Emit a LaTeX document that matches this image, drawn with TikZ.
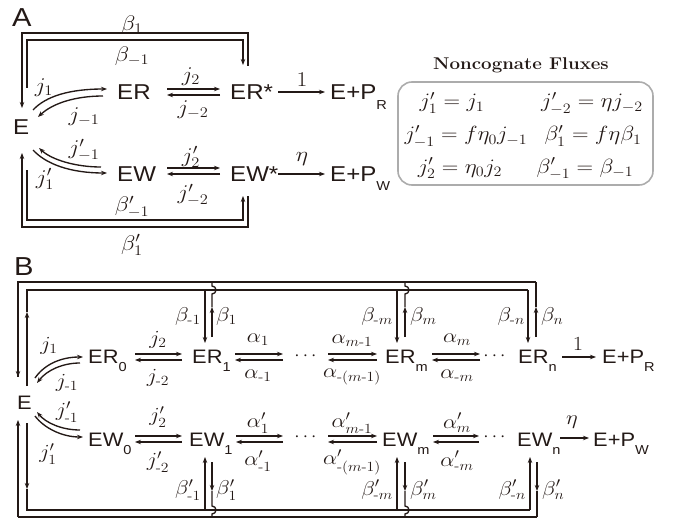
\RequirePackage{fix-cm}
\documentclass[tikz,border=0pt]{standalone}
\usepackage{amsmath}
\usepackage{fontspec}
\setsansfont[FakeStretch=1.12]{Liberation Sans}
\usetikzlibrary{arrows.meta}
\definecolor{ink}{RGB}{35,25,22}
\definecolor{boxgray}{RGB}{172,172,172}
\newcommand\ml[1]{\scalebox{1.12}[1]{$#1$}}
\newcommand\ssub[1]{\raisebox{-0.45em}{\fontsize{13}{13}\selectfont #1}}
\newcommand\hy{\text{-}}
\begin{document}
\begin{tikzpicture}[x=1pt,y=-1pt,
  ln/.style={line width=1.35pt, draw=ink},
  arr/.style={ln, -{Stealth[length=6pt,width=4.5pt]}},
  big/.style={font=\sffamily\fontsize{26}{26}\selectfont, text=ink, inner sep=0pt, anchor=base west},
  sfA/.style={font=\sffamily\fontsize{21.5}{21.5}\selectfont, text=ink, inner sep=0pt, anchor=base west},
  sfB/.style={font=\sffamily\fontsize{19.5}{19.5}\selectfont, text=ink, inner sep=0pt, anchor=base west},
  labA/.style={font=\fontsize{21}{21}\selectfont, text=ink, inner sep=0pt},
  labB/.style={font=\fontsize{20}{20}\selectfont, text=ink, inner sep=0pt},
  eqn/.style={font=\fontsize{20.5}{20.5}\selectfont, text=ink, inner sep=0pt, anchor=base},
  dots/.style={font=\fontsize{19}{19}\selectfont, text=ink, inner sep=0pt}]
\useasboundingbox (0,0) rectangle (681,519);

% ================= Panel A =================
\node[big] (A) at (12,27) {A};
\node[sfA] (E) at (13,135) {E};
\node[sfA] (ER) at (117,100) {ER};
\node[sfA] (ERs) at (230,100) {ER*};
\node[sfA] (PR) at (330,100) {E+P\ssub{R}};
\node[sfA] (EW) at (117,181) {EW};
\node[sfA] (EWs) at (230,181) {EW*};
\node[sfA] (PW) at (330,181) {E+P\ssub{W}};

% coordinates
\coordinate (aERf1) at (167,89);  \coordinate (aERf2) at (220,89);
\coordinate (aERb1) at (220,95);  \coordinate (aERb2) at (167,95);
\coordinate (aEWf1) at (167,168); \coordinate (aEWf2) at (220,168);
\coordinate (aEWb1) at (220,174); \coordinate (aEWb2) at (167,174);
\coordinate (aO1a) at (278,92);   \coordinate (aO1b) at (325,92);
\coordinate (aO2a) at (278,174);  \coordinate (aO2b) at (325,174);
\coordinate (aC1s) at (33,110);   \coordinate (aC1e) at (107,89);
\coordinate (aC2s) at (103,96);   \coordinate (aC2e) at (38,117);
\coordinate (aC3s) at (101,167);  \coordinate (aC3e) at (39,148);
\coordinate (aC4s) at (33,150);   \coordinate (aC4e) at (107,173);
\coordinate (aTi0) at (27,88);  \coordinate (aTi1) at (27,40);  \coordinate (aTi2) at (243,40);  \coordinate (aTi3) at (243,65);
\coordinate (aTo0) at (248,66); \coordinate (aTo1) at (248,33); \coordinate (aTo2) at (22,33);   \coordinate (aTo3) at (22,108);
\coordinate (aBi0) at (27,170); \coordinate (aBi1) at (27,220); \coordinate (aBi2) at (243,220); \coordinate (aBi3) at (243,196);
\coordinate (aBo0) at (248,196);\coordinate (aBo1) at (248,227);\coordinate (aBo2) at (22,227);  \coordinate (aBo3) at (22,153);

\draw[arr] (aERf1) -- (aERf2);
\draw[arr] (aERb1) -- (aERb2);
\draw[arr] (aEWf1) -- (aEWf2);
\draw[arr] (aEWb1) -- (aEWb2);
\draw[arr] (aO1a) -- (aO1b);
\draw[arr] (aO2a) -- (aO2b);
\draw[arr] (aC1s) .. controls (46,96) and (70,89) .. (aC1e);
\draw[arr] (aC2s) .. controls (76,96) and (53,103) .. (aC2e);
\draw[arr] (aC3s) .. controls (76,167) and (52,160) .. (aC3e);
\draw[arr] (aC4s) .. controls (46,164) and (70,173) .. (aC4e);
\draw[arr] (aTi0) -- (aTi1) -- (aTi2) -- (aTi3);
\draw[arr] (aTo0) -- (aTo1) -- (aTo2) -- (aTo3);
\draw[arr] (aBi0) -- (aBi1) -- (aBi2) -- (aBi3);
\draw[arr] (aBo0) -- (aBo1) -- (aBo2) -- (aBo3);

\node[labA] (lb1) at (132,25) {\ml{\beta_1}};
\node[labA] (lbm1) at (132,56) {\ml{\beta_{-1}}};
\node[labA] (lj2) at (191,77) {\ml{j_2}};
\node[labA] (ljm2) at (193,110) {\ml{j_{-2}}};
\node[labA] (l1) at (302,80) {\ml{1}};
\node[labA] (lj1) at (44,88) {\ml{j_1}};
\node[labA] (ljm1) at (84,117) {\ml{j_{-1}}};
\node[labA] (ljpm1) at (84,150) {\ml{j'_{-1}}};
\node[labA] (ljp1) at (45,179) {\ml{j'_1}};
\node[labA] (ljp2) at (191,157) {\ml{j'_2}};
\node[labA] (ljpm2) at (193,195) {\ml{j'_{-2}}};
\node[labA] (leta) at (302,159) {\ml{\eta}};
\node[labA] (lbpm1) at (132,207) {\ml{\beta'_{-1}}};
\node[labA] (lbp1) at (132,245) {\ml{\beta'_1}};

% Noncognate box
\node[font=\bfseries\fontsize{17}{17}\selectfont, text=ink, inner sep=0pt, anchor=base] (title) at (521,70) {\scalebox{1.1}[1]{Noncognate Fluxes}};
\node[draw=boxgray, line width=1.6pt, rounded corners=14pt, minimum width=255pt, minimum height=103pt, inner sep=0pt] (box) at (525.5,133.5) {};
\node[eqn] (q1) at (452,108) {\ml{j'_1 = j_1}};
\node[eqn] (q2) at (466,141) {\ml{j'_{-1} = f\eta_0 j_{-1}}};
\node[eqn] (q3) at (460,173) {\ml{j'_2 = \eta_0 j_2}};
\node[eqn] (q4) at (592,108) {\ml{j'_{-2} = \eta j_{-2}}};
\node[eqn] (q5) at (593,141) {\ml{\beta'_1 = f\eta\beta_1}};
\node[eqn] (q6) at (585,173) {\ml{\beta'_{-1} = \beta_{-1}}};

% ================= Panel B =================
\node[big] (B) at (14,275) {B};
\node[sfB] (EB) at (17,409) {E};
\node[sfB] (ER0) at (88,363) {ER\ssub{0}};
\node[sfB] (ER1) at (192,363) {ER\ssub{1}};
\node[sfB] (ERm) at (385,363) {ER\ssub{m}};
\node[sfB] (ERn) at (518,363) {ER\ssub{n}};
\node[sfB] (PRB) at (602,363) {E+P\ssub{R}};
\node[sfB] (EW0) at (88,446) {EW\ssub{0}};
\node[sfB] (EW1) at (189,446) {EW\ssub{1}};
\node[sfB] (EWm) at (382,446) {EW\ssub{m}};
\node[sfB] (EWn) at (517,446) {EW\ssub{n}};
\node[sfB] (PWB) at (593,446) {E+P\ssub{W}};
\node[dots] (d1) at (307,356) {$\cdots$};
\node[dots] (d2) at (496,356) {$\cdots$};
\node[dots] (d3) at (307,437) {$\cdots$};
\node[dots] (d4) at (496,437) {$\cdots$};

% horizontal pairs, ER row
\coordinate (r1a) at (135,354); \coordinate (r1b) at (182,354); \coordinate (r1c) at (182,360); \coordinate (r1d) at (135,360);
\coordinate (r2a) at (235,354); \coordinate (r2b) at (283,354); \coordinate (r2c) at (283,360); \coordinate (r2d) at (235,360);
\coordinate (r3a) at (328,354); \coordinate (r3b) at (377,354); \coordinate (r3c) at (377,360); \coordinate (r3d) at (328,360);
\coordinate (r4a) at (432,354); \coordinate (r4b) at (480,354); \coordinate (r4c) at (480,360); \coordinate (r4d) at (432,360);
\coordinate (r5a) at (562,357); \coordinate (r5b) at (596,357);
\draw[arr] (r1a) -- (r1b); \draw[arr] (r1c) -- (r1d);
\draw[arr] (r2a) -- (r2b); \draw[arr] (r2c) -- (r2d);
\draw[arr] (r3a) -- (r3b); \draw[arr] (r3c) -- (r3d);
\draw[arr] (r4a) -- (r4b); \draw[arr] (r4c) -- (r4d);
\draw[arr] (r5a) -- (r5b);
% EW row
\coordinate (w1a) at (135,436); \coordinate (w1b) at (182,436); \coordinate (w1c) at (182,442); \coordinate (w1d) at (135,442);
\coordinate (w2a) at (236,436); \coordinate (w2b) at (283,436); \coordinate (w2c) at (283,442); \coordinate (w2d) at (236,442);
\coordinate (w3a) at (328,436); \coordinate (w3b) at (377,436); \coordinate (w3c) at (377,442); \coordinate (w3d) at (328,442);
\coordinate (w4a) at (433,436); \coordinate (w4b) at (479,436); \coordinate (w4c) at (479,442); \coordinate (w4d) at (433,442);
\coordinate (w5a) at (560,438); \coordinate (w5b) at (589,438);
\draw[arr] (w1a) -- (w1b); \draw[arr] (w1c) -- (w1d);
\draw[arr] (w2a) -- (w2b); \draw[arr] (w2c) -- (w2d);
\draw[arr] (w3a) -- (w3b); \draw[arr] (w3c) -- (w3d);
\draw[arr] (w4a) -- (w4b); \draw[arr] (w4c) -- (w4d);
\draw[arr] (w5a) -- (w5b);

% curved arrows B
\coordinate (bC1s) at (35,378); \coordinate (bC1e) at (83,357);
\coordinate (bC2s) at (80,363); \coordinate (bC2e) at (37,383);
\coordinate (bC3s) at (80,430); \coordinate (bC3e) at (37,412);
\coordinate (bC4s) at (35,416); \coordinate (bC4e) at (83,437);
\draw[arr] (bC1s) .. controls (44,365) and (60,357) .. (bC1e);
\draw[arr] (bC2s) .. controls (63,363) and (47,370) .. (bC2e);
\draw[arr] (bC3s) .. controls (62,430) and (46,423) .. (bC3e);
\draw[arr] (bC4s) .. controls (44,428) and (62,437) .. (bC4e);

% top loops B
\coordinate (tO0) at (18,282); \coordinate (tO1) at (536,282); \coordinate (tOE) at (18,377);
\coordinate (tI0) at (27,290); \coordinate (tI1) at (528,290); \coordinate (tIE) at (27,386);
\coordinate (tIa) at (27,312);
\draw[ln] (tO1) -- (tO0) -- (tOE);
\draw[arr] (tO0) -- (tOE);
\draw[ln] (tIa) -- (tI0) -- (tI1);
\draw[arr] (tIE) -- (tIa);
% down arrows into ER_k
\coordinate (dn1a) at (205,290); \coordinate (dn1b) at (205,343);
\coordinate (dn2a) at (397,290); \coordinate (dn2b) at (397,343);
\coordinate (dn3a) at (528,290); \coordinate (dn3b) at (528,343);
\draw[arr] (dn1a) -- (dn1b);
\draw[arr] (dn2a) -- (dn2b);
\draw[arr] (dn3a) -- (dn3b);
% up arrows from ER_k, with hops
\coordinate (up1a) at (212,337); \coordinate (up1b) at (212,307); \coordinate (up1c) at (212,282);
\coordinate (up2a) at (405,337); \coordinate (up2b) at (405,307); \coordinate (up2c) at (405,282);
\coordinate (up3a) at (536,337); \coordinate (up3b) at (536,307); \coordinate (up3c) at (536,282);
\draw[arr] (up1a) -- (up1b);
\draw[ln] (up1b) -- (212,294) arc[start angle=90, end angle=-90, radius=4] -- (up1c);
\draw[arr] (up2a) -- (up2b);
\draw[ln] (up2b) -- (405,294) arc[start angle=90, end angle=-90, radius=4] -- (up2c);
\draw[arr] (up3a) -- (up3b);
\draw[ln] (up3b) -- (up3c);

% bottom loops B
\coordinate (bO0) at (18,517); \coordinate (bO1) at (537,517); \coordinate (bOE) at (18,420);
\coordinate (bI0) at (27,510); \coordinate (bI1) at (530,510); \coordinate (bIE) at (27,423);
\coordinate (bIa) at (27,489);
\draw[ln] (bO1) -- (bO0);
\draw[arr] (bO0) -- (bOE);
\draw[arr] (bIE) -- (bIa);
\draw[ln] (bIa) -- (bI0) -- (bI1);
% up arrows into EW_k
\coordinate (bu1a) at (205,510); \coordinate (bu1b) at (205,457);
\coordinate (bu2a) at (397,510); \coordinate (bu2b) at (397,457);
\coordinate (bu3a) at (530,510); \coordinate (bu3b) at (530,457);
\draw[arr] (bu1a) -- (bu1b);
\draw[arr] (bu2a) -- (bu2b);
\draw[arr] (bu3a) -- (bu3b);
% down arrows from EW_k with hops
\coordinate (bd1a) at (212,462); \coordinate (bd1b) at (212,491); \coordinate (bd1c) at (212,517);
\coordinate (bd2a) at (405,462); \coordinate (bd2b) at (405,491); \coordinate (bd2c) at (405,517);
\coordinate (bd3a) at (537,462); \coordinate (bd3b) at (537,491); \coordinate (bd3c) at (537,517);
\draw[arr] (bd1a) -- (bd1b);
\draw[ln] (bd1b) -- (212,506) arc[start angle=-90, end angle=90, radius=4] -- (bd1c);
\draw[arr] (bd2a) -- (bd2b);
\draw[ln] (bd2b) -- (405,506) arc[start angle=-90, end angle=90, radius=4] -- (bd2c);
\draw[arr] (bd3a) -- (bd3b);
\draw[ln] (bd3b) -- (bd3c);

% labels B
\node[labB] (mj1) at (49,346) {\ml{j_1}};
\node[labB] (mjm1) at (67,383) {\ml{j_{\hy1}}};
\node[labB] (mjpm1) at (67,412) {\ml{j'_{\hy1}}};
\node[labB] (mjp1) at (48,454) {\ml{j'_1}};
\node[labB] (mj2) at (158,340) {\ml{j_2}};
\node[labB] (mjm2) at (158,378) {\ml{j_{\hy2}}};
\node[labB] (ma1) at (258,340) {\ml{\alpha_1}};
\node[labB] (mam1) at (258,376) {\ml{\alpha_{\hy1}}};
\node[labB] (mamm) at (352,341) {\ml{\alpha_{m\hy1}}};
\node[labB] (mammm) at (352,377) {\ml{\alpha_{\hy(m\hy1)}}};
\node[labB] (mam) at (457,340) {\ml{\alpha_m}};
\node[labB] (mamn) at (457,376) {\ml{\alpha_{\hy m}}};
\node[labB] (mone) at (578,344) {\ml{1}};
\node[labB] (mjp2) at (158,417) {\ml{j'_2}};
\node[labB] (mjpm2) at (158,462) {\ml{j'_{\hy2}}};
\node[labB] (map1) at (258,423) {\ml{\alpha'_1}};
\node[labB] (mapm1) at (258,461) {\ml{\alpha'_{\hy1}}};
\node[labB] (mapmm) at (352,423) {\ml{\alpha'_{m\hy1}}};
\node[labB] (mapmmm) at (352,462) {\ml{\alpha'_{\hy(m\hy1)}}};
\node[labB] (mapm) at (457,423) {\ml{\alpha'_m}};
\node[labB] (mapmn) at (457,461) {\ml{\alpha'_{\hy m}}};
\node[labB] (meta) at (572,422) {\ml{\eta}};
\node[labB, anchor=east] (mbm1) at (201,316) {\ml{\beta_{\hy1}}};
\node[labB, anchor=west] (mb1) at (216,316) {\ml{\beta_1}};
\node[labB, anchor=east] (mbmm) at (393,316) {\ml{\beta_{\hy m}}};
\node[labB, anchor=west] (mbm) at (410,316) {\ml{\beta_m}};
\node[labB, anchor=east] (mbmn) at (525,316) {\ml{\beta_{\hy n}}};
\node[labB, anchor=west] (mbn) at (541,316) {\ml{\beta_n}};
\node[labB, anchor=east] (mbpm1) at (201,490) {\ml{\beta'_{\hy1}}};
\node[labB, anchor=west] (mbp1) at (216,490) {\ml{\beta'_1}};
\node[labB, anchor=east] (mbpmm) at (393,490) {\ml{\beta'_{\hy m}}};
\node[labB, anchor=west] (mbpm) at (410,490) {\ml{\beta'_m}};
\node[labB, anchor=east] (mbpmn) at (526,490) {\ml{\beta'_{\hy n}}};
\node[labB, anchor=west] (mbpn) at (542,490) {\ml{\beta'_n}};
\end{tikzpicture}
\end{document}
